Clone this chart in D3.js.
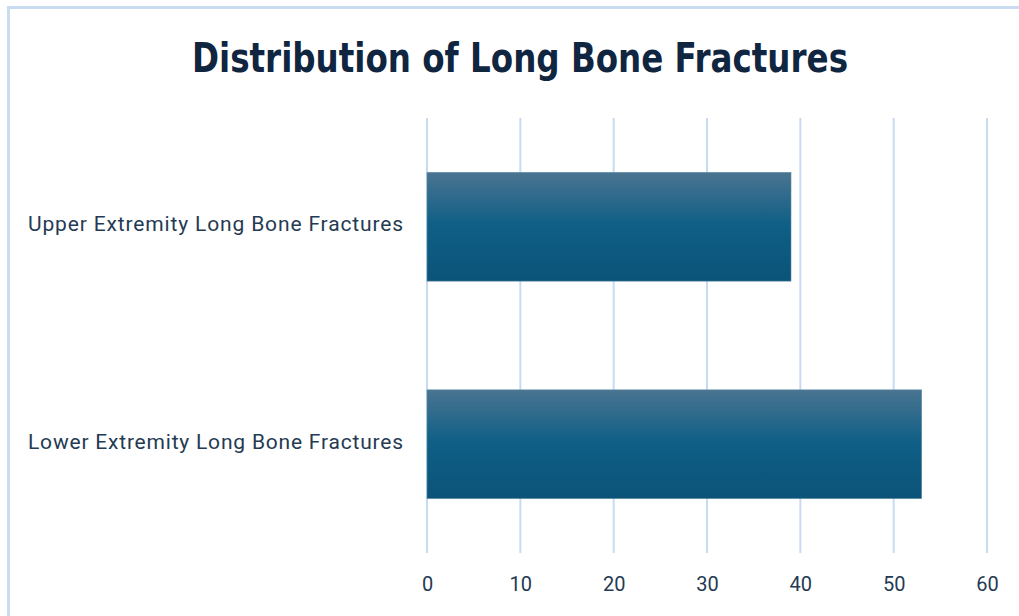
<!DOCTYPE html>
<html>
<head>
<meta charset="utf-8">
<script src="https://cdn.jsdelivr.net/npm/d3@7"></script>
<style>
  body { margin: 0; background: #fff; }
</style>
</head>
<body>
<div id="chart"></div>
<script>
const w = 1019;
const h = 616;

// data
const categories = ["Upper Extremity Long Bone Fractures", "Lower Extremity Long Bone Fractures"];
const values = [39, 53];
const ticks = [0, 10, 20, 30, 40, 50, 60];
const title = "Distribution of Long Bone Fractures";

const margin = {left: 427, right: 32, top: 118, bottom: 63};

const svg = d3.select("#chart").append("svg").attr("width", w).attr("height", h);

// chart border
svg.append("rect")
    .attr("x", 8.5).attr("y", 7.5)
    .attr("width", w + 10).attr("height", h + 10)
    .attr("fill", "#fff")
    .attr("stroke", "#c9dcf2")
    .attr("stroke-width", 3);

//gradient for bars
const grad = svg.append("defs").append("linearGradient")
    .attr("id", "barGrad").attr("x1", 0).attr("y1", 0).attr("x2", 0).attr("y2", 1);
grad.append("stop").attr("offset", "0%").attr("stop-color", "#4a7491");
grad.append("stop").attr("offset", "48%").attr("stop-color", "#0f5f86");
grad.append("stop").attr("offset", "100%").attr("stop-color", "#0b5378");

const x = d3.scaleLinear().domain([0, 60]).range([margin.left, w - margin.right]);
const y = d3.scaleBand().domain(categories).range([margin.top, h - margin.bottom]).paddingInner(0.5).paddingOuter(0.25);

// gridlines
svg.append("g")
    .selectAll("line")
    .data(ticks)
    .enter().append("line")
    .attr("x1", d => x(d)).attr("x2", d => x(d))
    .attr("y1", margin.top).attr("y2", h - margin.bottom)
    .attr("stroke", "#c6dbf2")
    .attr("stroke-width", 2);

// bars
svg.append("g")
    .selectAll("rect")
    .data(values)
    .enter().append("rect")
    .attr("x", x(0))
    .attr("y", (d, i) => y(categories[i]))
    .attr("width", d => x(d) - x(0))
    .attr("height", y.bandwidth())
    .attr("fill", "url(#barGrad)")
    .attr("stroke", "#5a8aa6")
    .attr("stroke-width", 0.6);

// x axis labels
const xAxis = svg.append("g")
    .attr("transform", "translate(0," + (h - margin.bottom) + ")")
    .call(d3.axisBottom(x).tickValues(ticks).tickSize(0).tickPadding(24));
xAxis.select(".domain").remove();
xAxis.selectAll("text")
    .style("font-family", "Roboto, 'DejaVu Sans', sans-serif")
    .style("font-size", "20px")
    .attr("fill", "#243a52");

// y axis labels
const yAxis = svg.append("g")
    .attr("transform", "translate(" + (margin.left - 24) + ",-2)")
    .call(d3.axisLeft(y).tickSize(0).tickPadding(0));
yAxis.select(".domain").remove();
yAxis.selectAll("text")
    .style("font-family", "Roboto, sans-serif")
    .style("font-size", "21px")
    .attr("fill", "#243a52")
    .attr("textLength", 375)
    .attr("lengthAdjust", "spacing");

// title
svg.append("text")
    .attr("x", 520).attr("y", 72)
    .attr("text-anchor", "middle")
    .style("font-family", "'DejaVu Sans Condensed', 'DejaVu Sans', sans-serif")
    .style("font-weight", "bold")
    .style("font-size", "40px")
    .attr("fill", "#10253f")
    .attr("textLength", 656)
    .attr("lengthAdjust", "spacingAndGlyphs")
    .text(title);
</script>
</body>
</html>
